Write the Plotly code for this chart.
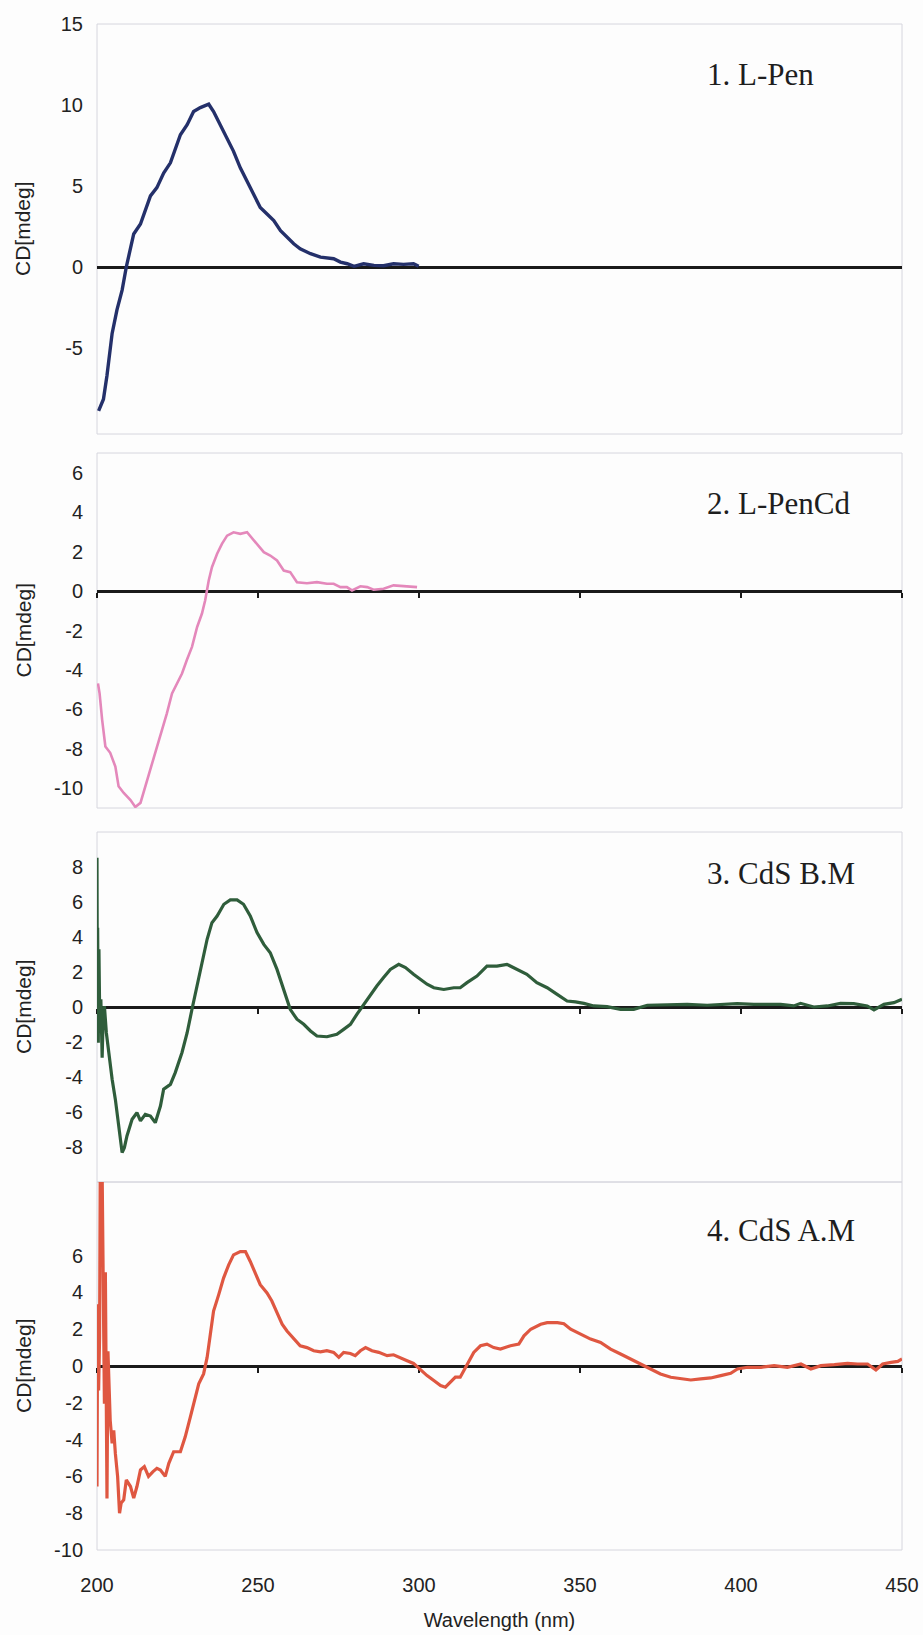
import plotly.graph_objects as go

W, H = 923, 1635

# ---------------- data ----------------
wl_pen = [200.5, 202, 203.1, 204.7, 206.2, 207.8, 209.1, 210.4, 211.4, 213.5, 215.5, 216.6, 218.6, 220.7,
          222.8, 223.8, 225.9, 228, 230, 232.1, 234.7, 236.2, 238.3, 240.4, 242.4, 244.5, 246.6, 248.7,
          250.7, 252.8, 254.9, 257, 259, 261.1, 263.1, 266.3, 269.4, 273.5, 275.6, 277.7, 279.8, 282.8,
          286, 289, 292.1, 295.2, 298.3, 299.9]
cd_pen = [-8.88, -8.16, -6.7, -4.1, -2.65, -1.43, 0.0, 1.22, 2.04, 2.65, 3.88, 4.39, 4.9, 5.8,
          6.43, 7.04, 8.16, 8.78, 9.6, 9.84, 10.05, 9.6, 8.78, 7.96, 7.14, 6.12, 5.3, 4.49,
          3.67, 3.27, 2.86, 2.24, 1.84, 1.43, 1.12, 0.82, 0.61, 0.51, 0.3, 0.2, 0.04, 0.2,
          0.1, 0.08, 0.2, 0.16, 0.2, 0.04]

wl_pencd = [200.3, 200.8, 201.6, 202.6, 204.1, 205.7, 206.7, 208.3, 210.4, 211.9, 213.5, 215, 216.6, 218.1,
            219.7, 221.7, 223.3, 224.8, 226.4, 227.9, 229.5, 231.1, 232.6, 233.6, 234.7, 235.7, 237.3,
            238.8, 240.4, 242.4, 244.5, 246.6, 248.7, 251.8, 253.8, 255.9, 258, 260, 262.1, 265.2,
            268.3, 271.4, 273.5, 275.6, 277.6, 279.2, 281.8, 283.9, 285.9, 289, 292.1, 295.2, 299.4]
cd_pencd = [-4.68, -5.19, -6.53, -7.88, -8.2, -8.9, -9.9, -10.24, -10.6, -10.95, -10.74, -9.9, -9.06, -8.22,
            -7.37, -6.2, -5.19, -4.68, -4.18, -3.5, -2.83, -1.82, -1.14, -0.47, 0.54, 1.21, 1.89,
            2.39, 2.81, 2.98, 2.9, 2.98, 2.56, 1.97, 1.8, 1.55, 1.04, 0.96, 0.45, 0.4,
            0.45, 0.37, 0.37, 0.2, 0.2, 0.03, 0.24, 0.2, 0.07, 0.12, 0.29, 0.24, 0.2]

wl_bm = [200, 200.1, 200.2, 200.4, 200.6, 200.8, 201, 201.2, 201.6, 201.9, 202.3, 202.9, 203.6, 204.7,
         205.7, 206.7, 207.8, 208.5, 209.3, 210.9, 212.4, 213.5, 215, 216.6, 218.1, 219.7, 220.7, 222.8,
         224.3, 226.4, 228, 229.5, 231.1, 232.6, 234.2, 235.7, 237.3, 239.4, 241.4, 243.5, 245.5, 247.6,
         249.7, 251.8, 253.8, 255.9, 258, 260, 262.1, 264.2, 266.3, 268.3, 271.4, 274.5, 276.6, 278.7,
         280.7, 282.8, 284.9, 286.9, 289, 291.1, 293.7, 295.8, 298.3, 300.4, 302.5, 304.6, 307.7, 310.8,
         312.8, 314.9, 318, 321.1, 324.2, 327.3, 330.4, 333.5, 336.6, 339.8, 342.9, 346, 348.6, 351.2,
         354.3, 358.4, 362.6, 366.7, 370.9, 377.1, 383.3, 389.5, 395.7, 398.8, 404, 408.1, 412.3, 416.4,
         418.5, 422.6, 426.8, 430.9, 435, 439.2, 441.3, 444.4, 447.5, 450]
cd_bm = [8.53, 1.2, 4.53, -2.04, 3.3, 0.05, -1.47, 0.44, -2.9, -0.7, 0.05, -1.47, -2.6, -4.13,
         -5.28, -6.8, -8.32, -8.04, -7.37, -6.42, -6.04, -6.51, -6.13, -6.23, -6.61, -5.66, -4.7, -4.42,
         -3.75, -2.6, -1.47, -0.13, 1.2, 2.53, 3.87, 4.82, 5.2, 5.87, 6.12, 6.12, 5.87, 5.2,
         4.25, 3.58, 3.1, 2.15, 1.0, -0.13, -0.7, -0.99, -1.37, -1.66, -1.7, -1.56, -1.28, -0.99,
         -0.42, 0.15, 0.72, 1.2, 1.68, 2.15, 2.44, 2.25, 1.87, 1.58, 1.3, 1.1, 1.0, 1.1,
         1.1, 1.39, 1.77, 2.34, 2.34, 2.44, 2.15, 1.87, 1.39, 1.1, 0.72, 0.34, 0.29, 0.21,
         0.06, 0.02, -0.13, -0.13, 0.1, 0.11, 0.15, 0.1, 0.13, 0.19, 0.15, 0.13, 0.15, 0.06,
         0.21, 0.0, 0.06, 0.21, 0.19, 0.06, -0.17, 0.15, 0.25, 0.44]

wl_am = [200, 200.2, 200.5, 200.8, 201, 201.6, 201.9, 202.3, 202.6, 203.1, 203.4, 203.8, 204.1, 204.7,
         205.2, 205.7, 206.4, 207, 207.5, 208.3, 209.1, 210.4, 211.4, 212.4, 213.5, 214.7, 216, 217.4,
         218.6, 219.7, 221.2, 222.3, 223.8, 225.9, 227.4, 229, 230.5, 231.6, 233.1, 234.2, 235.2, 236.2,
         237.8, 239.3, 240.9, 242.4, 244.5, 246.1, 247.6, 249.2, 250.7, 252.8, 254.3, 255.9, 257.5, 259,
         261.1, 263.1, 265.2, 267.3, 269.4, 271.4, 273.5, 275.1, 276.6, 278.7, 280.2, 281.8, 283.4, 285.4,
         287.5, 290.1, 292.1, 294.2, 296.3, 298.3, 300.4, 302.5, 304.6, 306.7, 308.2, 309.8, 311.3, 312.8,
         314.9, 317, 319.1, 321.1, 323.2, 325.3, 328.4, 331, 332.6, 334.7, 337.8, 339.8, 343, 345,
         347.1, 350.2, 353.3, 356.4, 359.5, 362.6, 365.7, 368.8, 371.9, 375, 378.2, 381.3, 384.4, 387.5,
         390.6, 393.7, 396.8, 398.9, 402, 406.2, 410.3, 414.4, 418.6, 421.7, 424.8, 429, 433.1, 436.2,
         439.3, 441.9, 444, 446.6, 448.7, 450]
cd_am = [-6.55, 3.35, -1.33, 1.55, 10.5, 10.5, 5.1, -2.05, 5.1, -7.2, 0.8, -1.15, -2.95, -4.2,
         -3.5, -4.75, -6.0, -8.0, -7.45, -7.27, -6.19, -6.55, -7.18, -6.55, -5.65, -5.47, -6.0, -5.74,
         -5.56, -5.65, -6.0, -5.29, -4.66, -4.66, -3.85, -2.77, -1.69, -0.97, -0.43, 0.47, 1.73, 2.99,
         3.88, 4.78, 5.5, 6.04, 6.22, 6.22, 5.68, 5.05, 4.42, 3.97, 3.53, 2.9, 2.27, 1.9,
         1.46, 1.1, 1.0, 0.83, 0.77, 0.83, 0.74, 0.47, 0.74, 0.68, 0.56, 0.83, 1.0, 0.83,
         0.74, 0.56, 0.61, 0.47, 0.29, 0.14, -0.22, -0.52, -0.79, -1.06, -1.15, -0.88, -0.61, -0.61,
         0.11, 0.74, 1.1, 1.19, 1.0, 0.92, 1.1, 1.19, 1.64, 2.0, 2.27, 2.36, 2.36, 2.3,
         2.0, 1.73, 1.46, 1.28, 0.92, 0.65, 0.38, 0.14, -0.16, -0.43, -0.61, -0.7, -0.76, -0.7,
         -0.65, -0.52, -0.4, -0.16, -0.07, -0.07, 0.02, -0.07, 0.11, -0.16, 0.02, 0.07, 0.14, 0.11,
         0.11, -0.22, 0.11, 0.2, 0.25, 0.38]

labels = ["1. L-Pen", "2. L-PenCd", "3. CdS B.M", "4. CdS A.M"]
x_ticks = [200, 250, 300, 350, 400, 450]
y_ticks = [[-5, 0, 5, 10, 15],
           [-10, -8, -6, -4, -2, 0, 2, 4, 6],
           [-8, -6, -4, -2, 0, 2, 4, 6, 8],
           [-10, -8, -6, -4, -2, 0, 2, 4, 6]]
y_ranges = [[-10.31, 15], [-11, 7], [-10, 10], [-10, 10]]
series = [(wl_pen, cd_pen), (wl_pencd, cd_pencd), (wl_bm, cd_bm), (wl_am, cd_am)]

# ---------------- styling / layout ----------------
colors = ["#24306a", "#e488bb", "#2f5d3b", "#df5741"]
widths = [3.4, 2.6, 3.2, 3.2]
tops_px = [24, 453, 832, 1182]
bots_px = [434, 808, 1182, 1550]
label_y_px = [75, 503, 873, 1230]
X0, X1 = 97 / W, 902 / W
sans = "Liberation Sans, Arial, sans-serif"
serif = "Liberation Serif, Times New Roman, serif"
txt = "#222222"

fig = go.Figure()
layout = dict(width=W, height=H, margin=dict(l=0, r=0, t=0, b=0, autoexpand=False),
              paper_bgcolor="#fdfdfd", plot_bgcolor="#fdfdfd", showlegend=False,
              shapes=[], annotations=[])

for i in range(4):
    n = i + 1
    sfx = "" if n == 1 else str(n)
    d0 = 1 - bots_px[i] / H
    d1 = 1 - tops_px[i] / H
    lo, hi = y_ranges[i]
    zero_pos = d0 + (0 - lo) / (hi - lo) * (d1 - d0)

    layout["yaxis" + sfx] = dict(domain=[d0, d1], range=y_ranges[i], anchor="x" + sfx,
                                 automargin=False, tickmode="array",
                                 tickvals=y_ticks[i], ticktext=[str(v) for v in y_ticks[i]],
                                 ticks="", showgrid=False, zeroline=False,
                                 showline=False, ticklabelstandoff=13,
                                 tickfont=dict(family=sans, size=20, color=txt))
    # x axis crossing at zero: black line with downward ticks
    layout["xaxis" + sfx] = dict(domain=[X0, X1], range=[200, 450], anchor="free",
                                 position=zero_pos, side="bottom", automargin=False,
                                 tickvals=x_ticks, ticks=("" if n == 1 else "outside"),
                                 ticklen=5, tickwidth=2, tickcolor="#1a1a1a",
                                 showticklabels=False, showgrid=False, zeroline=False,
                                 showline=True, linecolor="#1a1a1a", linewidth=3,
                                 layer="below traces")

    fig.add_trace(go.Scatter(x=series[i][0], y=series[i][1], mode="lines",
                             line=dict(color=colors[i], width=widths[i]),
                             xaxis="x" + sfx, yaxis="y" + sfx, hoverinfo="skip"))

    layout["shapes"].append(dict(type="rect", xref="x" + sfx + " domain", yref="y" + sfx + " domain",
                                 x0=0, x1=1, y0=0, y1=1, line=dict(color="#d6d6de", width=1),
                                 layer="below"))
    layout["annotations"].append(dict(text="CD[mdeg]", xref="paper", yref="y" + sfx + " domain",
                                      x=23 / W, y=0.5, xanchor="center", yanchor="middle",
                                      textangle=-90, showarrow=False,
                                      font=dict(family=sans, size=21, color=txt)))
    layout["annotations"].append(dict(text=labels[i], xref="paper", yref="paper",
                                      x=705 / W, y=1 - label_y_px[i] / H, xanchor="left",
                                      yanchor="middle", showarrow=False,
                                      font=dict(family=serif, size=31, color="#1e1e1e")))

# bottom wavelength axis for the last panel (tick labels + title)
layout["xaxis5"] = dict(domain=[X0, X1], range=[200, 450], anchor="y4", overlaying="x4",
                        side="bottom", tickvals=x_ticks, ticks="", showline=False, showgrid=False,
                        zeroline=False, ticklabelstandoff=21, automargin=False,
                        tickfont=dict(family=sans, size=20, color=txt),
                        title=dict(text="Wavelength (nm)", standoff=17,
                                   font=dict(family=sans, size=20, color=txt)))
fig.add_trace(go.Scatter(x=wl_am, y=cd_am, mode="lines", opacity=0, line=dict(width=1),
                         xaxis="x5", yaxis="y4", hoverinfo="skip"))

fig.update_layout(**layout)
fig.write_html("out.html")
